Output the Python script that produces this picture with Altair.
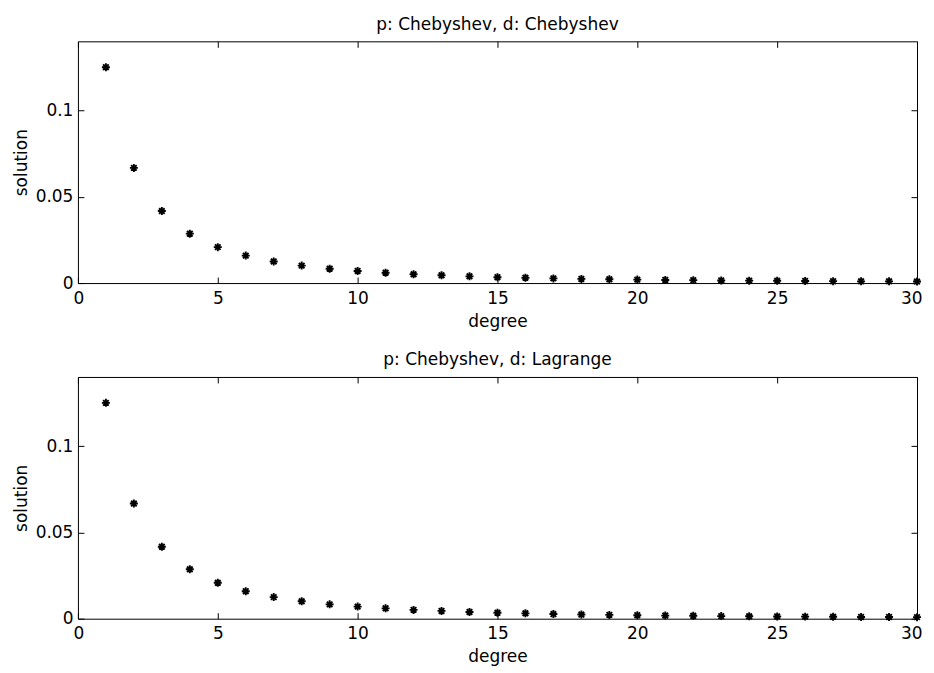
import altair as alt
import pandas as pd

degree = list(range(1, 31))
sol_cheb = [0.125, 0.0667, 0.0417, 0.0286, 0.0208, 0.0159, 0.0125, 0.0101, 0.0083, 0.0070,
            0.0060, 0.0051, 0.0045, 0.0039, 0.0034, 0.0031, 0.0027, 0.0024, 0.0022, 0.0020,
            0.0018, 0.0017, 0.0015, 0.0014, 0.0013, 0.0012, 0.0011, 0.0010, 0.0010, 0.0009]
sol_lagr = [0.125, 0.0667, 0.0417, 0.0286, 0.0208, 0.0159, 0.0125, 0.0101, 0.0083, 0.0070,
            0.0060, 0.0051, 0.0045, 0.0039, 0.0034, 0.0031, 0.0027, 0.0024, 0.0022, 0.0020,
            0.0018, 0.0017, 0.0015, 0.0014, 0.0013, 0.0012, 0.0011, 0.0010, 0.0010, 0.0009]
titles = ["p: Chebyshev, d: Chebyshev", "p: Chebyshev, d: Lagrange"]
x_ticks = [0, 5, 10, 15, 20, 25, 30]
y_ticks = [0, 0.05, 0.1]
x_domain = [0, 30]
y_domain = [0, 0.14]

W, H = 840, 242
FONT = "DejaVu Sans"
FS = 17
ASTERISK = "M-1,0L1,0M0,-1L0,1M-0.7,-0.7L0.7,0.7M-0.7,0.7L0.7,-0.7"


def panel(values, title):
    df = pd.DataFrame({"degree": degree, "solution": values})
    xs = alt.Scale(domain=x_domain, nice=False, zero=False)
    ys = alt.Scale(domain=y_domain, nice=False, zero=True)
    base = alt.Chart(df)

    main = base.mark_point(shape=ASTERISK, size=64, filled=False, stroke="black",
                           strokeWidth=1.9, opacity=1).encode(
        x=alt.X("degree:Q", scale=xs,
                axis=alt.Axis(orient="bottom", values=x_ticks, ticks=False, tickSize=0,
                              domain=False, grid=False, labelPadding=7, labelFont=FONT,
                              labelFontSize=FS, labelColor="black", title="degree",
                              titleFont=FONT, titleFontSize=FS, titleFontWeight="normal",
                              titleColor="black", titlePadding=7, labelFlush=True,
                              labelFlushOffset=5)),
        y=alt.Y("solution:Q", scale=ys,
                axis=alt.Axis(orient="left", values=y_ticks, format="~g", ticks=False,
                              tickSize=0, domain=False, grid=False, labelPadding=5,
                              labelFont=FONT, labelFontSize=FS, labelColor="black",
                              title="solution", titleFont=FONT, titleFontSize=FS,
                              titleFontWeight="normal", titleColor="black",
                              titlePadding=5, labelFlush=False)),
    )

    ticks_a = base.mark_point(opacity=0).encode(
        x=alt.X("degree:Q", scale=xs,
                axis=alt.Axis(orient="top", offset=-H, values=x_ticks, labels=False,
                              ticks=True, tickSize=6, tickColor="black", tickWidth=1,
                              domain=False, grid=False, title=None)),
        y=alt.Y("solution:Q", scale=ys,
                axis=alt.Axis(orient="right", offset=-W, values=y_ticks, labels=False,
                              ticks=True, tickSize=6, tickColor="black", tickWidth=1,
                              domain=False, grid=False, title=None)),
    )
    ticks_b = base.mark_point(opacity=0).encode(
        x=alt.X("degree:Q", scale=xs,
                axis=alt.Axis(orient="bottom", offset=-H, values=x_ticks, labels=False,
                              ticks=True, tickSize=6, tickColor="black", tickWidth=1,
                              domain=False, grid=False, title=None)),
        y=alt.Y("solution:Q", scale=ys,
                axis=alt.Axis(orient="left", offset=-W, values=y_ticks, labels=False,
                              ticks=True, tickSize=6, tickColor="black", tickWidth=1,
                              domain=False, grid=False, title=None)),
    )

    return alt.layer(ticks_a, ticks_b, main).resolve_axis(
        x="independent", y="independent"
    ).properties(
        width=W, height=H,
        title=alt.TitleParams(title, font=FONT, fontSize=FS, fontWeight="normal",
                              color="black", anchor="middle", offset=7),
    )


chart = alt.vconcat(
    panel(sol_cheb, titles[0]),
    panel(sol_lagr, titles[1]),
    spacing=21,
).properties(
    padding={"left": 3, "top": 7, "right": 0, "bottom": 0}
).configure(
    background="white"
).configure_view(
    stroke="black", strokeWidth=1
)

chart.save("out.html", embed_options={"renderer": "svg", "actions": False})
